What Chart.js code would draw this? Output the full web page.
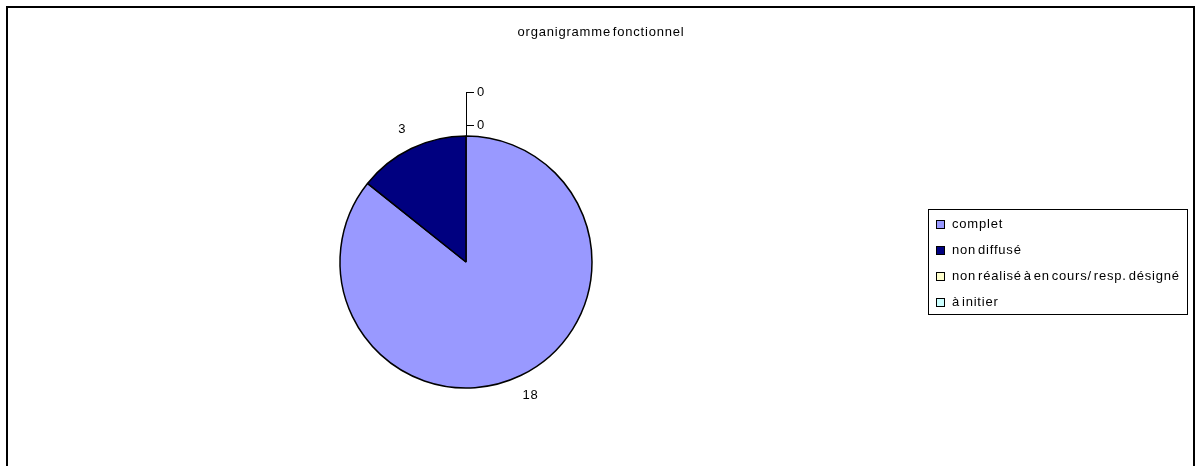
<!DOCTYPE html>
<html lang="fr">
<head>
<meta charset="UTF-8">
<title>organigramme fonctionnel</title>
<script src="https://cdn.jsdelivr.net/npm/chart.js"></script>
<style>
  body { margin: 0; background: #fff; }
  #wrap { width: 1195px; height: 466px; }
</style>
</head>
<body>
<div id="wrap"><canvas id="pieChart" width="1195" height="466"></canvas></div>
<script>
const chartTitle = 'organigramme fonctionnel';
const categories = ['complet', 'non diffusé', 'non réalisé à en cours/ resp. désigné', 'à initier'];
const counts = [18, 3, 0, 0];
const sliceColors = ['#9999ff', '#000080', '#ffffcc', '#ccffff'];

const FONT = '13px "Liberation Sans", Arial, sans-serif';

function setText(ctx) {
    ctx.font = FONT;
    ctx.fillStyle = '#000';
    ctx.letterSpacing = '0.8px';
    ctx.wordSpacing = '-2.5px';
}

// frame, title, slice labels and the boxed legend (Excel look)
const excelDecor = {
    id: 'excelDecor',
    afterDraw(chart) {
        const ctx = chart.ctx;
        ctx.save();

        // outer frame
        ctx.strokeStyle = '#000';
        ctx.lineWidth = 2;
        ctx.strokeRect(7, 7, 1187, 470);

        // title
        setText(ctx);
        ctx.textAlign = 'center';
        ctx.textBaseline = 'middle';
        ctx.fillText(chartTitle, 601, 32);

        // slice labels
        const arcs = chart.getDatasetMeta(0).data;
        const zeros = [];
        arcs.forEach((a, i) => {
            const p = a.getProps(['x', 'y', 'startAngle', 'endAngle', 'outerRadius'], true);
            if (counts[i] === 0) {
                zeros.push(p);
                return;
            }
            const txt = String(counts[i]);
            const mid = (p.startAngle + p.endAngle) / 2;
            const w = ctx.measureText(txt).width;
            const off = 15 + Math.abs(Math.cos(mid)) * w / 2 + Math.abs(Math.sin(mid)) * 4.5;
            ctx.fillText(txt, p.x + Math.cos(mid) * (p.outerRadius + off), p.y + Math.sin(mid) * (p.outerRadius + off));
        });

        // zero slices: stacked leader line
        if (zeros.length) {
            const p = zeros[0];
            const ex = p.x + Math.cos(p.startAngle) * p.outerRadius;
            const ey = p.y + Math.sin(p.startAngle) * p.outerRadius;
            const ys = zeros.map((z, k) => ey - 11 - 33 * k);
            ctx.strokeStyle = '#000';
            ctx.lineWidth = 1;
            ctx.beginPath();
            ctx.moveTo(Math.round(ex) + 0.5, ey);
            ctx.lineTo(Math.round(ex) + 0.5, ys[ys.length - 1]);
            ys.forEach(y => {
                ctx.moveTo(Math.round(ex), Math.round(y) + 0.5);
                ctx.lineTo(Math.round(ex) + 8, Math.round(y) + 0.5);
            });
            ctx.stroke();
            ctx.textAlign = 'left';
            ys.forEach(y => ctx.fillText('0', ex + 11, y));
        }

        // legend
        const lx = 928, ly = 209, lw = 259, rowH = 26;
        const lh = 15 + rowH * (categories.length - 1) + 12;
        ctx.lineWidth = 1;
        ctx.strokeStyle = '#000';
        ctx.strokeRect(lx + 0.5, ly + 0.5, lw, lh);
        categories.forEach((c, i) => {
            const cy = ly + 15 + rowH * i;
            ctx.fillStyle = sliceColors[i];
            ctx.fillRect(lx + 8, cy - 4, 9, 9);
            ctx.strokeRect(lx + 8.5, cy - 3.5, 8, 8);
            ctx.fillStyle = '#000';
            ctx.textAlign = 'left';
            ctx.fillText(c, lx + 24, cy);
        });

        ctx.restore();
    }
};

new Chart(document.getElementById('pieChart').getContext('2d'), {
    type: 'pie',
    data: {
        labels: categories,
        datasets: [{
            data: counts,
            backgroundColor: sliceColors,
            borderColor: '#000',
            borderWidth: 1.5
        }]
    },
    options: {
        responsive: false,
        animation: false,
        radius: 126,
        layout: { padding: { left: 10, right: 273, top: 100, bottom: 42 } },
        plugins: {
            legend: { display: false },
            tooltip: { enabled: false }
        }
    },
    plugins: [excelDecor]
});
</script>
</body>
</html>
